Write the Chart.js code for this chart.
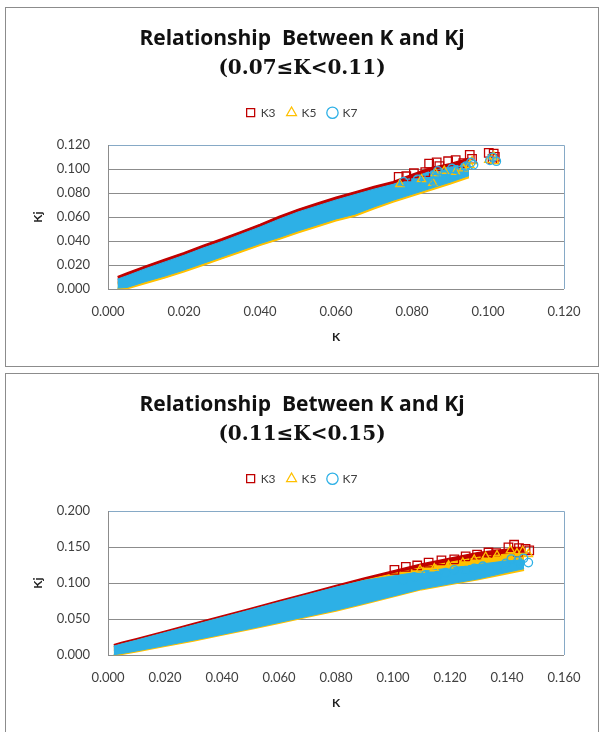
<!DOCTYPE html>
<html>
<head>
<meta charset="utf-8">
<script src="https://cdn.jsdelivr.net/npm/chart.js@4.4.1/dist/chart.umd.min.js"></script>
<style>
  body { margin: 0; background: #fff; }
  .panel { position: absolute; left: 5px; width: 594px; box-sizing: border-box; border: 1px solid #8c8c8c; background: #fff; }
  .panel canvas { display: block; }
  #p1 { top: 7px; height: 360px; }
  #p2 { top: 373px; height: 372px; }
</style>
</head>
<body>
<div class="panel" id="p1"><canvas id="c1" width="592" height="357"></canvas></div>
<div class="panel" id="p2"><canvas id="c2" width="592" height="357"></canvas></div>
<script>
// === chart 1 (0.07<=K<0.11): band edges
const kA = [0.0025, 0.005, 0.01, 0.015, 0.02, 0.025, 0.03, 0.035, 0.04, 0.045, 0.05, 0.055, 0.06, 0.065, 0.07, 0.075, 0.08, 0.085, 0.09, 0.095];
const k3HiA = [0.0105, 0.0135, 0.0195, 0.025, 0.0305, 0.0365, 0.042, 0.048, 0.054, 0.0605, 0.0665, 0.0715, 0.0765, 0.081, 0.0855, 0.0895, 0.0955, 0.101, 0.1045, 0.109];
const k3LoA = [0.004, 0.006, 0.011, 0.016, 0.021, 0.027, 0.032, 0.038, 0.044, 0.05, 0.055, 0.06, 0.065, 0.07, 0.075, 0.08, 0.085, 0.09, 0.095, 0.1];
const k5HiA = [0.006, 0.008, 0.013, 0.018, 0.023, 0.029, 0.034, 0.04, 0.046, 0.052, 0.057, 0.062, 0.067, 0.072, 0.077, 0.082, 0.087, 0.092, 0.097, 0.102];
const k5LoA = [0.0005, 0.0005, 0.005, 0.0095, 0.0145, 0.02, 0.0255, 0.031, 0.0365, 0.0415, 0.047, 0.052, 0.057, 0.061, 0.067, 0.0725, 0.0775, 0.0825, 0.0875, 0.093];
const k7HiA = [0.0085, 0.0113, 0.0173, 0.0228, 0.0283, 0.0343, 0.0398, 0.0458, 0.0518, 0.0583, 0.0643, 0.0693, 0.0743, 0.0788, 0.0833, 0.0873, 0.0928, 0.0983, 0.1018, 0.106];
const k7LoA = [0.001, 0.0015, 0.0065, 0.011, 0.016, 0.0215, 0.027, 0.0325, 0.038, 0.043, 0.0485, 0.0535, 0.0585, 0.0625, 0.0685, 0.074, 0.079, 0.084, 0.089, 0.0945];
// single markers at the high end
const k3xA = [0.0765, 0.0785, 0.0805, 0.0835, 0.0845, 0.0865, 0.0872, 0.0895, 0.0915, 0.0935, 0.0952, 0.0958, 0.1002, 0.1015, 0.1012, 0.1018];
const k3yA = [0.0935, 0.094, 0.0965, 0.0975, 0.1045, 0.1055, 0.1025, 0.1065, 0.1075, 0.105, 0.1118, 0.1085, 0.1135, 0.1128, 0.1085, 0.1102];
const k5xA = [0.0768, 0.0825, 0.0855, 0.0862, 0.0885, 0.0915, 0.0935, 0.0952, 0.0958, 0.1002, 0.1015, 0.1018];
const k5yA = [0.0875, 0.0915, 0.0885, 0.0965, 0.0985, 0.0975, 0.1005, 0.1035, 0.1065, 0.1075, 0.1105, 0.1065];
const k7xA = [0.0778, 0.0815, 0.0845, 0.0858, 0.0868, 0.0882, 0.0905, 0.0925, 0.0942, 0.0955, 0.0962, 0.1005, 0.1012, 0.1022];
const k7yA = [0.0895, 0.0915, 0.0935, 0.0895, 0.0985, 0.0955, 0.1005, 0.0985, 0.1025, 0.1055, 0.1035, 0.1072, 0.1098, 0.1065];

// === chart 2 (0.11<=K<0.15)
const kB = [0.002, 0.005, 0.01, 0.02, 0.03, 0.04, 0.05, 0.06, 0.07, 0.08, 0.09, 0.1, 0.11, 0.12, 0.13, 0.14, 0.146];
const k3HiB = [0.0148, 0.018, 0.023, 0.0335, 0.044, 0.0545, 0.065, 0.0757, 0.086, 0.0967, 0.107, 0.117, 0.1265, 0.1345, 0.1425, 0.147, 0.149];
const k3LoB = [0.006, 0.008, 0.013, 0.022, 0.031, 0.04, 0.049, 0.058, 0.067, 0.077, 0.086, 0.096, 0.105, 0.113, 0.12, 0.126, 0.128];
const k5HiB = [0.012, 0.0155, 0.0205, 0.031, 0.0415, 0.052, 0.0625, 0.073, 0.0835, 0.094, 0.104, 0.113, 0.1215, 0.129, 0.136, 0.1405, 0.142];
const k5LoB = [0.0, 0.0015, 0.005, 0.0125, 0.0198, 0.028, 0.036, 0.0445, 0.053, 0.0615, 0.071, 0.081, 0.091, 0.098, 0.105, 0.113, 0.118];
const k7HiB = [0.0128, 0.016, 0.021, 0.0315, 0.042, 0.0525, 0.063, 0.0737, 0.084, 0.0945, 0.104, 0.11, 0.116, 0.121, 0.126, 0.131, 0.132];
const k7LoB = [0.0008, 0.0025, 0.006, 0.0135, 0.021, 0.029, 0.037, 0.0455, 0.054, 0.0625, 0.072, 0.082, 0.092, 0.099, 0.106, 0.115, 0.12];
const k3xB = [0.1005, 0.1045, 0.1085, 0.1125, 0.117, 0.1215, 0.1255, 0.1295, 0.1335, 0.1362, 0.1405, 0.1425, 0.1442, 0.1465, 0.1478, 0.1438];
const k3yB = [0.1185, 0.1225, 0.1245, 0.1285, 0.1315, 0.133, 0.137, 0.1395, 0.1425, 0.1415, 0.1495, 0.1532, 0.1485, 0.1475, 0.1455, 0.1435];
const k5xB = [0.1095, 0.1145, 0.1195, 0.1245, 0.1285, 0.1325, 0.1365, 0.1412, 0.1435, 0.1455, 0.1475];
const k5yB = [0.1185, 0.1205, 0.1245, 0.1285, 0.1325, 0.1365, 0.1385, 0.1455, 0.1415, 0.1445, 0.1402];
const k7xB = [0.1035, 0.1075, 0.1115, 0.1155, 0.1185, 0.1215, 0.1255, 0.1285, 0.1315, 0.1365, 0.1395, 0.1415, 0.1438, 0.1458, 0.1475, 0.1445];
const k7yB = [0.1045, 0.1085, 0.1115, 0.1105, 0.1145, 0.1185, 0.1175, 0.1205, 0.1235, 0.1225, 0.1275, 0.1335, 0.1305, 0.1345, 0.1285, 0.1265];

// axis ticks
const xMaxA = 0.12, yMaxA = 0.12, yStepA = 0.02;
const xMaxB = 0.16, yMaxB = 0.2, yStepB = 0.05;

const RED = "#c00000", YEL = "#ffc000", BLUE = "#2db0e6";
Chart.defaults.font.family = "Lato";

function pts(xs, ys) {
  return xs.map((x, i) => ({ x: x, y: ys[i] }));
}

function marker(label, xs, ys, color, style, r) {
  return {
    label: label, data: pts(xs, ys), showLine: false,
    pointStyle: style, pointRadius: r, pointBorderWidth: 1.3, borderWidth: 1.3,
    borderColor: color, backgroundColor: "rgba(255,255,255,0)",
    pointBorderColor: color, pointBackgroundColor: "rgba(255,255,255,0)"
  };
}

function edge(xs, ys, color, fill, w) {
  return {
    label: "", data: pts(xs, ys), showLine: true, fill: fill,
    pointRadius: 0, borderWidth: w, borderColor: color, backgroundColor: color, tension: 0
  };
}

// plot frame: blue top/right, grey left
const plotFrame = {
  id: "plotFrame",
  afterDatasetsDraw(chart) {
    const { ctx, chartArea: a } = chart;
    ctx.save();
    ctx.lineWidth = 1;
    ctx.strokeStyle = "#86a9c6";
    ctx.beginPath();
    ctx.moveTo(Math.round(a.left), Math.round(a.top) + 0.5);
    ctx.lineTo(Math.round(a.right) + 0.5, Math.round(a.top) + 0.5);
    ctx.lineTo(Math.round(a.right) + 0.5, Math.round(a.bottom));
    ctx.stroke();
    ctx.strokeStyle = "#8c8c8c";
    ctx.beginPath();
    ctx.moveTo(Math.round(a.left) + 0.5, Math.round(a.top));
    ctx.lineTo(Math.round(a.left) + 0.5, Math.round(a.bottom) + 1);
    ctx.stroke();
    ctx.restore();
  }
};

function buildChart(id, sub, grid, s3hi, s3lo, s5hi, s5lo, s7hi, s7lo, m3x, m3y, m5x, m5y, m7x, m7y, xMax, yMax, yStep) {
  new Chart(document.getElementById(id), {
    type: "line",
    data: {
      datasets: [
        marker("K7", m7x, m7y, BLUE, "circle", 4.2),
        marker("K5", m5x, m5y, YEL, "triangle", 4.8),
        marker("K3", m3x, m3y, RED, "rect", 6),
        edge(grid, s7hi, BLUE, "+1", 1),
        edge(grid, s7lo, BLUE, false, 1),
        edge(grid, s5hi, YEL, "+1", 1),
        edge(grid, s5lo, YEL, false, 1.5),
        edge(grid, s3hi, RED, "+1", 1.5),
        edge(grid, s3lo, RED, false, 0)
      ]
    },
    options: {
      responsive: false,
      animation: false,
      events: [],
      layout: { padding: { left: 34, right: 34, top: 0, bottom: 17.7 } },
      plugins: {
        title: {
          display: true, text: "Relationship  Between K and Kj", color: "#111",
          font: { family: "Open Sans", size: 21, weight: "bold" }, padding: { top: 18, bottom: 0 }
        },
        subtitle: {
          display: true, text: sub, color: "#111",
          font: { family: "DejaVu Serif", size: 20, weight: "bold" }, padding: { top: 6, bottom: 13.5 }
        },
        legend: {
          display: true, reverse: true,
          labels: {
            filter: (item) => item.text !== "",
            usePointStyle: true, boxWidth: 8, boxHeight: 8, padding: 12,
            color: "#404040", font: { size: 12 }
          }
        },
        tooltip: { enabled: false }
      },
      scales: {
        x: {
          type: "linear", min: 0, max: xMax,
          grid: { display: false, drawTicks: false },
          border: { display: false },
          ticks: { stepSize: 0.02, padding: 15, color: "#404040", font: { size: 13 }, maxRotation: 0, autoSkip: false,
            callback: (v) => v.toFixed(3) },
          title: { display: true, text: "K", color: "#222", font: { size: 12, weight: "bold" }, padding: { top: 0, bottom: 3 } },
          afterFit: (s) => { s.height = 58; }
        },
        x2: {
          type: "linear", position: "top", display: true,
          grid: { display: false, drawTicks: false }, border: { display: false }, ticks: { display: false },
          afterFit: (s) => { s.height = 16.3; }
        },
        y: {
          min: 0, max: yMax,
          grid: { color: "#8c8c8c", drawTicks: false },
          border: { display: false },
          ticks: { stepSize: yStep, padding: 18, color: "#404040", font: { size: 13 },
            callback: (v) => v.toFixed(3) },
          title: { display: true, text: "Kj", color: "#222", font: { size: 12, weight: "bold" }, padding: { top: -9, bottom: 0 } },
          afterFit: (s) => { s.width = 68; }
        }
      }
    },
    plugins: [plotFrame]
  });
}

buildChart("c1", "(0.07\u2264K<0.11)", kA, k3HiA, k3LoA, k5HiA, k5LoA, k7HiA, k7LoA,
  k3xA, k3yA, k5xA, k5yA, k7xA, k7yA, xMaxA, yMaxA, yStepA);
buildChart("c2", "(0.11\u2264K<0.15)", kB, k3HiB, k3LoB, k5HiB, k5LoB, k7HiB, k7LoB,
  k3xB, k3yB, k5xB, k5yB, k7xB, k7yB, xMaxB, yMaxB, yStepB);
</script>
</body>
</html>
